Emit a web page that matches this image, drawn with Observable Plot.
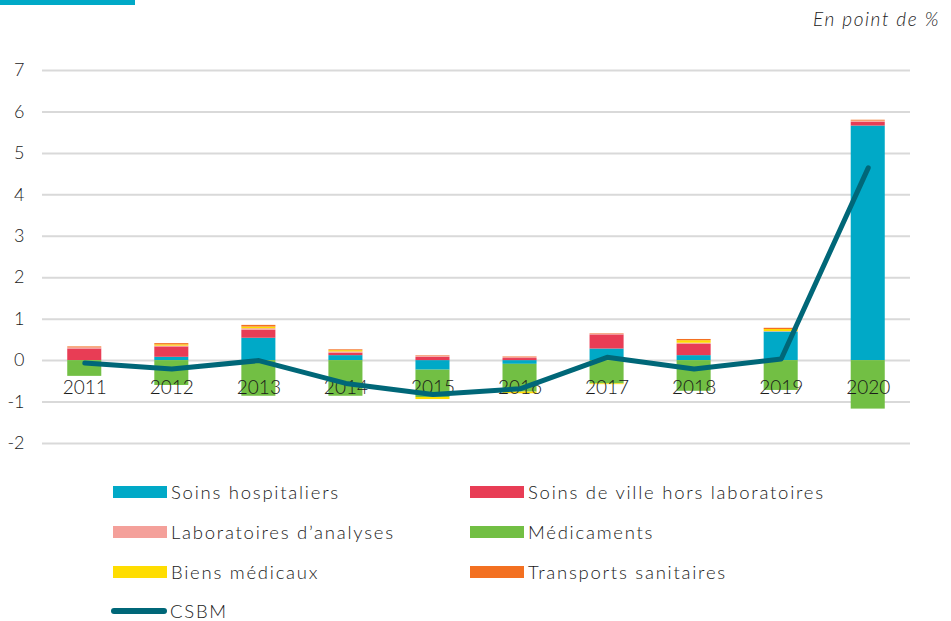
<!DOCTYPE html>
<html><head><meta charset="utf-8">
<script src="https://cdn.jsdelivr.net/npm/d3@7"></script>
<script src="https://cdn.jsdelivr.net/npm/@observablehq/plot@0.6"></script>
<style>
body{margin:0;background:#fff;font-family:Lato,"Open Sans",sans-serif;color:#1a1a1a;}
#wrap{position:relative;width:951px;height:621px;overflow:hidden;}
#chart{position:absolute;left:0;top:0;}
.unit{position:absolute;right:11px;top:7px;font-style:italic;font-size:19px;font-weight:300;letter-spacing:1.6px;color:#222;}
.strip{position:absolute;left:0;top:0;width:135px;height:5px;background:#00A9C7;}
.leg{position:absolute;font-size:18.5px;font-weight:300;letter-spacing:1.75px;color:#1a1a1a;display:flex;align-items:center;white-space:nowrap;height:20px;line-height:20px;}
.sw{display:inline-block;width:54px;height:12px;margin-right:4px;}
.ln{display:inline-block;width:56px;height:6px;border-radius:3px;margin-right:3px;}
</style></head>
<body><div id="wrap"><div class="strip"></div><div class="unit">En point de %</div><div id="chart"></div></div>
<script>
const years = ["2011","2012","2013","2014","2015","2016","2017","2018","2019","2020"];
const series = ["Soins hospitaliers","Soins de ville hors laboratoires","Laboratoires d’analyses","Médicaments","Biens médicaux","Transports sanitaires"];
const colors = ["#00A9C7","#E83D55","#F4A09A","#72BF44","#FFDD00","#F37021"];
const soinsHosp   = [0.00, 0.08, 0.54, 0.12, -0.23, -0.09, 0.28, 0.12, 0.69, 5.66];
const soinsVille  = [0.28, 0.25, 0.19, 0.06, 0.08, 0.05, 0.34, 0.27, 0.00, 0.09];
const labos       = [0.03, 0.02, 0.04, 0.03, 0.03, 0.03, 0.02, 0.03, 0.01, 0.03];
const medicaments = [-0.38, -0.60, -0.86, -0.86, -0.66, -0.67, -0.56, -0.74, -0.72, -1.17];
const biens       = [0.00, 0.03, 0.04, 0.03, -0.05, -0.04, -0.02, 0.06, 0.05, 0.00];
const transports  = [0.02, 0.03, 0.04, 0.02, 0.01, 0.01, 0.01, 0.03, 0.03, 0.02];
const csbm        = [-0.06, -0.20, 0.00, -0.55, -0.82, -0.68, 0.08, -0.20, 0.04, 4.65];
const yTicks = [-2,-1,0,1,2,3,4,5,6,7];

const seriesValues = [soinsHosp, soinsVille, labos, medicaments, biens, transports];
const rows = [];
series.forEach((s,i)=>years.forEach((y,j)=>rows.push({year:y, serie:s, value:seriesValues[i][j]})));
const line = years.map((y,j)=>({year:y, value:csbm[j]}));

const chart = Plot.plot({
  width: 951, height: 460,
  marginLeft: 42, marginRight: 41, marginTop: 70, marginBottom: 17,
  style: {fontFamily: "Lato, 'Open Sans', sans-serif", fontSize: "18px", color: "#1a1a1a", background: "transparent"},
  x: {domain: years, paddingInner: 0.609, paddingOuter: 0.29, round: false, axis: null},
  y: {domain: [-2, 7], ticks: yTicks, label: null},
  color: {domain: series, range: colors},
  marks: [
    Plot.gridY(yTicks, {stroke: "#d9d9d9", strokeOpacity: 1, strokeWidth: 2}),
    Plot.axisY(yTicks, {tickSize: 0, tickPadding: 18, fontSize: 18, fontWeight: 300, label: null, tickFormat: d => String(d)}),
    Plot.barY(rows, Plot.stackY({x: "year", y: "value", fill: "serie", order: series})),
    Plot.text(years, {x: d => d, y: () => 0, dy: 27, text: d => d, fontSize: 19, fontWeight: 300, fill: "#1a1a1a"}),
    Plot.line(line, {x: "year", y: "value", stroke: "#006778", strokeWidth: 5, strokeLinecap: "round", strokeLinejoin: "round"})
  ]
});
document.getElementById("chart").appendChild(chart);

const wrap = document.getElementById("wrap");
const legItems = [
  [series[0], colors[0], 113, 492], [series[1], colors[1], 470, 492],
  [series[2], colors[2], 113, 532], [series[3], colors[3], 470, 532],
  [series[4], colors[4], 113, 572], [series[5], colors[5], 470, 572]
];
legItems.forEach(([t,c,x,y])=>{
  const d = document.createElement("div");
  d.className = "leg";
  d.style.left = x+"px"; d.style.top = (y-10)+"px";
  d.innerHTML = `<span class="sw" style="background:${c}"></span><span>${t}</span>`;
  wrap.appendChild(d);
});
const dl = document.createElement("div");
dl.className = "leg"; dl.style.left = "111px"; dl.style.top = "601px";
dl.innerHTML = `<span class="ln" style="background:#006778"></span><span>CSBM</span>`;
wrap.appendChild(dl);
</script></body></html>
